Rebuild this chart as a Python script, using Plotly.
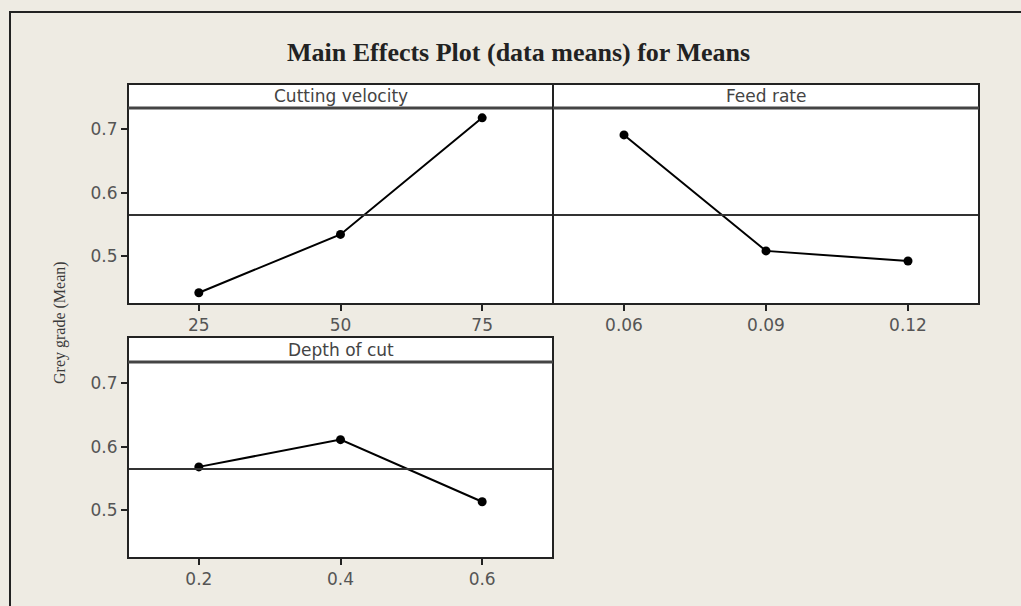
import plotly.graph_objects as go

# ---- data ----
cv_levels = [25, 50, 75]
cv_means = [0.442, 0.534, 0.718]
fr_levels = [0.06, 0.09, 0.12]
fr_means = [0.691, 0.508, 0.492]
doc_levels = [0.2, 0.4, 0.6]
doc_means = [0.568, 0.611, 0.513]
grand_mean = 0.5646
panel_titles = ["Cutting velocity", "Feed rate", "Depth of cut"]
cv_ticks = ["25", "50", "75"]
fr_ticks = ["0.06", "0.09", "0.12"]
doc_ticks = ["0.2", "0.4", "0.6"]
y_ticks = [0.5, 0.6, 0.7]
y_ticktext = ["0.5", "0.6", "0.7"]

W, H = 1021, 606
BG = "#EEEBE3"
EDGE = "#222222"
TICKFONT = dict(family="DejaVu Sans", size=17, color="#555555")


def px(x):
    return x / W


def py(y):
    return 1 - y / H


Y_RANGE = [0.4242, 0.7335]

panels = [
    # (levels, means, ticktext, x0, x1, header_top, plot_top, plot_bottom, show_y)
    (cv_levels, cv_means, cv_ticks, 128, 553, 84, 108, 304, True),
    (fr_levels, fr_means, fr_ticks, 553, 979, 84, 108, 304, False),
    (doc_levels, doc_means, doc_ticks, 128, 553, 337, 362, 558, True),
]

fig = go.Figure()
shapes = []
annotations = []
layout_axes = {}

for i, (lv, mn, tt, x0, x1, ht, pt, pb, show_y) in enumerate(panels):
    n = i + 1
    xa = "x" if n == 1 else f"x{n}"
    ya = "y" if n == 1 else f"y{n}"
    step = lv[1] - lv[0]
    fig.add_trace(go.Scatter(
        x=lv, y=mn, xaxis=xa, yaxis=ya, mode="lines+markers",
        line=dict(color="black", width=2),
        marker=dict(color="black", size=9, symbol="circle"),
        showlegend=False, hoverinfo="x+y",
    ))
    layout_axes["xaxis" if n == 1 else f"xaxis{n}"] = dict(
        domain=[px(x0), px(x1)], anchor=ya,
        range=[lv[0] - step / 2, lv[-1] + step / 2],
        tickvals=lv, ticktext=tt, ticks="outside", ticklen=6, tickwidth=2,
        tickcolor=EDGE, showline=False, showgrid=False, zeroline=False,
        tickfont=TICKFONT, fixedrange=True,
    )
    layout_axes["yaxis" if n == 1 else f"yaxis{n}"] = dict(
        domain=[py(pb), py(pt)], anchor=xa, range=Y_RANGE,
        tickvals=y_ticks, ticktext=y_ticktext,
        ticks="outside" if show_y else "", ticklen=6, tickwidth=2,
        tickcolor=EDGE, showticklabels=show_y,
        showline=False, showgrid=False, zeroline=False, tickfont=TICKFONT,
        fixedrange=True,
    )
    # grand mean reference line
    shapes.append(dict(type="line", xref=f"{xa} domain", yref=ya,
                       x0=0, x1=1, y0=grand_mean, y1=grand_mean,
                       line=dict(color="#333333", width=2), layer="above"))
    # plot border
    shapes.append(dict(type="rect", xref="paper", yref="paper",
                       x0=px(x0), x1=px(x1), y0=py(pb), y1=py(pt),
                       fillcolor="rgba(0,0,0,0)", line=dict(color=EDGE, width=2)))
    # header strip
    shapes.append(dict(type="rect", xref="paper", yref="paper",
                       x0=px(x0), x1=px(x1), y0=py(pt), y1=py(ht),
                       fillcolor="white", line=dict(color=EDGE, width=2)))
    shapes.append(dict(type="line", xref="paper", yref="paper",
                       x0=px(x0), x1=px(x1), y0=py(pt), y1=py(pt),
                       line=dict(color="#444444", width=3)))
    annotations.append(dict(
        text=panel_titles[i], xref="paper", yref="paper",
        x=(px(x0) + px(x1)) / 2, y=(py(pt) + py(ht)) / 2,
        xanchor="center", yanchor="middle", showarrow=False,
        font=dict(family="DejaVu Sans", size=17, color="#444444"),
    ))

# outer frame
shapes.append(dict(type="rect", xref="paper", yref="paper",
                   x0=px(10), x1=1.02, y0=-0.02, y1=py(12),
                   line=dict(color=EDGE, width=2), fillcolor="rgba(0,0,0,0)"))

# title
annotations.append(dict(
    text="<b>Main Effects Plot (data means) for Means</b>",
    xref="paper", yref="paper", x=px(518), y=py(52),
    xanchor="center", yanchor="middle", showarrow=False,
    font=dict(family="Liberation Serif", size=26, color="#222222"),
))
# y axis title
annotations.append(dict(
    text="Grey grade (Mean)", xref="paper", yref="paper",
    x=px(60), y=py(323), xanchor="center", yanchor="middle",
    textangle=-90, showarrow=False,
    font=dict(family="Liberation Serif", size=16, color="#3a3a3a"),
))

fig.update_layout(
    width=W, height=H, margin=dict(l=0, r=0, t=0, b=0),
    paper_bgcolor=BG, plot_bgcolor="white",
    shapes=shapes, annotations=annotations, showlegend=False,
    **layout_axes,
)

fig.write_html("out.html", config={"displayModeBar": False})
